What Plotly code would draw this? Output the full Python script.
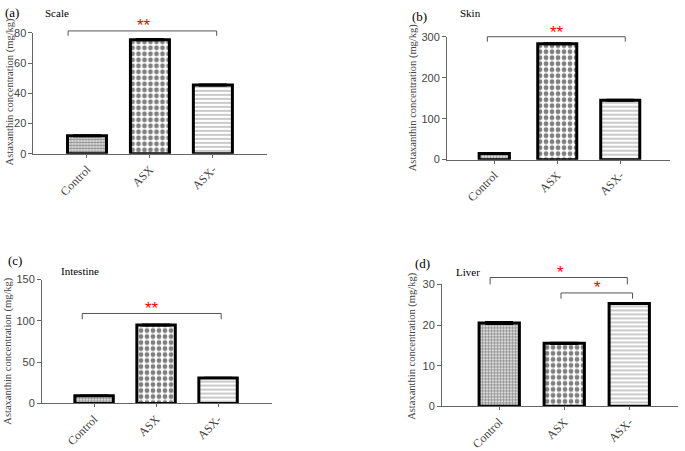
import plotly.graph_objects as go

categories = ["Control", "ASX", "ASX-"]

scale_vals = [12.0, 75.5, 45.5]
scale_err = [0.5, 0.6, 0.5]
skin_vals = [15.0, 283.0, 145.0]
skin_err = [1.5, 2.0, 2.0]
intestine_vals = [9.5, 95.0, 31.0]
intestine_err = [0.5, 0.8, 0.5]
liver_vals = [20.5, 15.5, 25.3]
liver_err = [0.3, 0.2, 0.2]

ytitle = "Astaxanthin concentration (mg/kg)"
serif = "Liberation Serif"
sans = "Liberation Sans"

# pattern per category: control fine checker, ASX coarse checker, ASX- lines
patterns = [
    dict(shape=".", size=3, solidity=0.65, fgcolor="#111", bgcolor="white"),
    dict(shape=".", size=6, solidity=0.5, fgcolor="black", bgcolor="white"),
    dict(shape="-", size=4, solidity=0.35, fgcolor="#666", bgcolor="white"),
]

# brackets: (x start, x end, top y, bottom y, stars, star x, star y)
panels = [
    dict(vals=scale_vals, err=scale_err, xd=[0.0489, 0.3898], yd=[0.6585, 0.9379],
         xr=[-0.85, 2.86], yr=[0, 80], dt=20, label="(a)", name="Scale",
         lab_xy=(12, 7), name_xy=(57, 7), yt_xy=(10, 90), widths=[0.62, 0.62, 0.62],
         brackets=[(-0.30, 2.06, 81.3, 78.1, "**", 0.9, 87.6)]),
    dict(vals=skin_vals, err=skin_err, xd=[0.6526, 0.9781], yd=[0.6452, 0.9290],
         xr=[-0.75, 2.79], yr=[0, 300], dt=100, label="(b)", name="Skin",
         lab_xy=(419, 11), name_xy=(470, 7), yt_xy=(413, 95), widths=[0.48, 0.62, 0.62],
         brackets=[(-0.11, 2.08, 300, 288, "**", 1.0, 321)]),
    dict(vals=intestine_vals, err=intestine_err, xd=[0.0613, 0.3971], yd=[0.0820, 0.3681],
         xr=[-0.84, 2.87], yr=[0, 150], dt=50, label="(c)", name="Intestine",
         lab_xy=(15, 265), name_xy=(80, 276), yt_xy=(8, 360), widths=[0.62, 0.62, 0.62],
         brackets=[(-0.19, 2.05, 109, 102, "**", 0.93, 120)]),
    dict(vals=liver_vals, err=liver_err, xd=[0.6453, 0.9898], yd=[0.0754, 0.3570],
         xr=[-0.88, 2.75], yr=[0, 30], dt=10, label="(d)", name="Liver",
         lab_xy=(422, 268), name_xy=(468, 277), yt_xy=(412, 355), widths=[0.62, 0.62, 0.62],
         brackets=[(-0.14, 1.97, 31.7, 30.0, "*", 0.94, 33.8),
                   (0.95, 2.05, 27.9, 26.5, "*", 1.51, 30.2)]),
]

W, H = 685, 451
fig = go.Figure()
annotations = []
shapes = []


def to_paper(dom, rng, v):
    return dom[0] + (v - rng[0]) / (rng[1] - rng[0]) * (dom[1] - dom[0])


for i, p in enumerate(panels):
    n = "" if i == 0 else str(i + 1)
    xa, ya = "x" + n, "y" + n
    for j, cat in enumerate(categories):
        fig.add_trace(go.Bar(
            x=[j], y=[p["vals"][j]], xaxis=xa, yaxis=ya, width=p["widths"][j],
            marker=dict(color="white", pattern=patterns[j],
                        line=dict(color="black", width=3)),
            error_y=dict(type="data", array=[p["err"][j]], visible=True,
                         color="black", thickness=1.5, width=14),
            showlegend=False))
    # significance brackets, placed in paper space so they can sit above the axis
    for (x0, x1, ytop, ybot, stars, sx, sy) in p["brackets"]:
        X0, X1 = to_paper(p["xd"], p["xr"], x0), to_paper(p["xd"], p["xr"], x1)
        YT, YB = to_paper(p["yd"], p["yr"], ytop), to_paper(p["yd"], p["yr"], ybot)
        shapes.append(dict(type="path", xref="paper", yref="paper",
                           path=f"M{X0},{YB} L{X0},{YT} L{X1},{YT} L{X1},{YB}",
                           line=dict(color="#555", width=1)))
        annotations.append(dict(x=to_paper(p["xd"], p["xr"], sx),
                                y=to_paper(p["yd"], p["yr"], sy),
                                xref="paper", yref="paper", text=stars,
                                showarrow=False, yshift=-4,
                                xanchor="center", yanchor="middle",
                                font=dict(family=sans, size=17, color="red")))
    fig.layout["xaxis" + n] = dict(
        domain=p["xd"], range=p["xr"], anchor=ya, tickvals=[0, 1, 2],
        ticktext=categories, tickangle=-45, showgrid=False, zeroline=False,
        showline=True, linecolor="#666", linewidth=1, ticks="outside",
        ticklen=3, tickcolor="#666",
        tickfont=dict(family=serif, size=12, color="#444"))
    fig.layout["yaxis" + n] = dict(
        domain=p["yd"], range=p["yr"], anchor=xa, dtick=p["dt"],
        showgrid=False, zeroline=False, showline=True, linecolor="#666",
        linewidth=1, ticks="outside", ticklen=4, tickcolor="#666",
        tickfont=dict(family=sans, size=11, color="#444"))
    annotations.append(dict(x=p["lab_xy"][0] / W, y=1 - p["lab_xy"][1] / H,
                            xref="paper", yref="paper", text=p["label"],
                            showarrow=False, xanchor="center", yanchor="middle",
                            font=dict(family=serif, size=13, color="black")))
    annotations.append(dict(x=p["name_xy"][0] / W, y=1 - p["name_xy"][1] / H,
                            xref="paper", yref="paper", text=p["name"],
                            showarrow=False, xanchor="center", yanchor="middle",
                            font=dict(family=serif, size=11, color="black")))
    annotations.append(dict(x=p["yt_xy"][0] / W, y=1 - p["yt_xy"][1] / H,
                            xref="paper", yref="paper", text=ytitle,
                            textangle=-90, showarrow=False, xanchor="center",
                            yanchor="middle",
                            font=dict(family=serif, size=10.5, color="#444")))

fig.update_layout(width=W, height=H, margin=dict(l=0, r=0, t=0, b=0),
                  paper_bgcolor="white", plot_bgcolor="white",
                  annotations=annotations, shapes=shapes)

fig.write_html("out.html", config={"displayModeBar": False},
               post_script="document.body.style.margin='0';")
